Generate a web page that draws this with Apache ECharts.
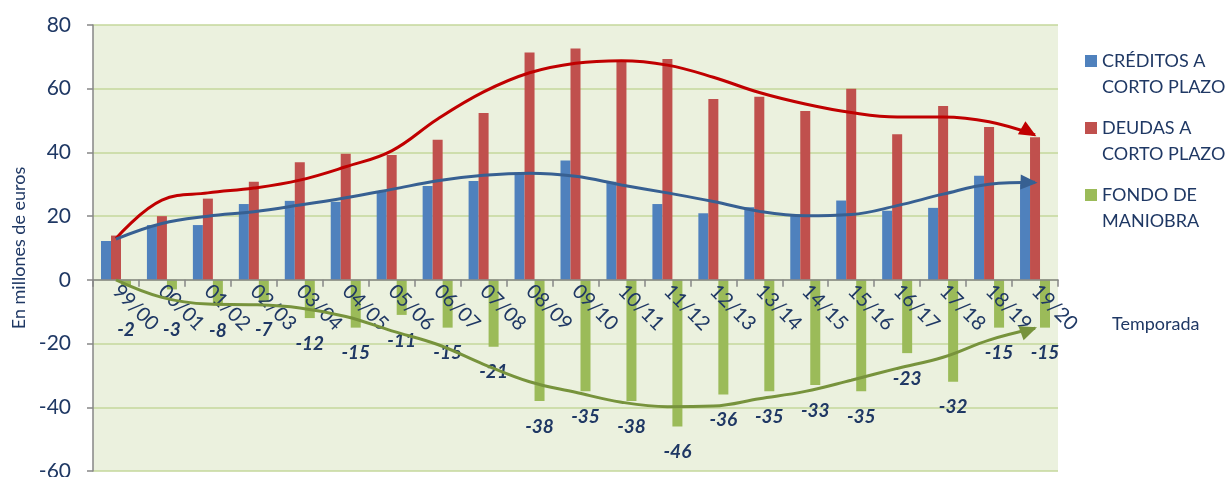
<!DOCTYPE html>
<html><head><meta charset="utf-8">
<script src="https://cdn.jsdelivr.net/npm/echarts@6/dist/echarts.min.js"></script>
<style>html,body{margin:0;padding:0;background:#fff}#c{width:1227px;height:477px}</style>
</head><body><div id="c"></div>
<script>
const categories = ['99/00','00/01','01/02','02/03','03/04','04/05','05/06','06/07','07/08','08/09','09/10','10/11','11/12','12/13','13/14','14/15','15/16','16/17','17/18','18/19','19/20'];
const creditos = [12.2,17.2,17.2,23.8,24.8,24.5,27.7,29.5,31,33.6,37.5,30.8,23.8,20.9,22.8,20.4,24.9,21.7,22.6,32.7,30];
const deudas = [13.9,20,25.5,30.8,36.9,39.6,39.2,44,52.4,71.4,72.6,69,69.3,56.8,57.5,53,60,45.7,54.6,48,44.8];
const fondo = [-2,-3,-8,-7,-12,-15,-11,-15,-21,-38,-35,-38,-46,-36,-35,-33,-35,-23,-32,-15,-15];
const trendCreditos = [12.8,17.7,20,21.4,23.5,25.8,28.4,31.1,32.8,33.5,32.5,29.8,27.3,24.6,21.5,20.1,20.5,23.3,26.9,30,30.6];
const trendDeudas = [13,25,27.3,28.8,31.3,35.5,40.5,50.5,59,65,68,68.8,67.4,63.6,58.8,55.2,52.5,51.1,51.1,49.6,45.5];
const trendFondo = [0,-5.5,-7.6,-7.8,-8.8,-11.5,-16,-20.3,-26.5,-32,-35.3,-38.4,-39.8,-39.6,-37.3,-35,-31.5,-27.8,-24.3,-18.9,-15.2];
const seriesNames = ['CRÉDITOS A CORTO PLAZO','DEUDAS A CORTO PLAZO','FONDO DE MANIOBRA'];
const legendLines = {'CRÉDITOS A CORTO PLAZO':'\nCRÉDITOS A\nCORTO PLAZO','DEUDAS A CORTO PLAZO':'\nDEUDAS A\nCORTO PLAZO','FONDO DE MANIOBRA':'\nFONDO DE\nMANIOBRA'};
const yMin = -60, yMax = 80, yStep = 20;

const NAVY = '#1F3864';
const FONT = 'Lato';
const grid = {left: 93, right: 169, top: 25, bottom: 6};
const plotH = 477 - grid.top - grid.bottom;
const pxPerUnit = plotH / (yMax - yMin);
const zeroY = grid.top + yMax * pxPerUnit;
const xAxisOffset = -(477 - grid.bottom - zeroY);

function trend(values, color, rot, off) {
  const n = values.length;
  return values.map((v, i) => i === n - 1
    ? {value: v, symbol: 'triangle', symbolSize: [15, 17], symbolRotate: rot, symbolOffset: off, itemStyle: {color: color}}
    : {value: v, symbol: 'none'});
}

const fondoData = fondo.map(v => {
  const barEnd = zeroY - v * pxPerUnit;
  const d = Math.max(16, 320 - barEnd);
  return {value: v, label: {distance: d}};
});

const chart = echarts.init(document.getElementById('c'));
chart.setOption({
  animation: false,
  textStyle: {fontFamily: FONT},
  grid: Object.assign({show: true, backgroundColor: '#EBF1DE', borderWidth: 0, outerBoundsMode: 'none', containLabel: false}, grid),
  legend: {
    orient: 'vertical', left: 1085, top: 22, padding: 0,
    icon: 'rect', itemWidth: 12, itemHeight: 12, itemGap: -11,
    data: seriesNames,
    formatter: n => legendLines[n],
    textStyle: {color: NAVY, fontSize: 18, fontFamily: FONT, lineHeight: 26}
  },
  graphic: [{type: 'text', left: 1112, top: 315, style: {text: 'Temporada', fill: NAVY, fontSize: 18, fontFamily: FONT}}],
  xAxis: {
    type: 'category', data: categories, position: 'bottom', offset: xAxisOffset,
    axisLine: {onZero: false, lineStyle: {color: '#868686', width: 1.5}},
    axisTick: {show: true, length: 7, interval: 0, lineStyle: {color: '#868686', width: 1.5}},
    axisLabel: {rotate: -45, interval: 0, margin: 8, color: NAVY, fontSize: 20, fontFamily: FONT},
    z: 3
  },
  yAxis: {
    type: 'value', min: yMin, max: yMax, interval: yStep,
    name: 'En millones de euros', nameLocation: 'middle', nameGap: 64, nameRotate: 90,
    nameTextStyle: {color: NAVY, fontSize: 18, fontFamily: FONT},
    axisLine: {show: true, lineStyle: {color: '#868686', width: 1.5}},
    axisTick: {show: true, length: 6, lineStyle: {color: '#868686', width: 1.5}},
    axisLabel: {color: NAVY, fontSize: 21, margin: 22, fontFamily: FONT},
    splitLine: {lineStyle: {color: '#C4D79B', width: 1.5}}
  },
  series: [
    {name: seriesNames[0], type: 'bar', data: creditos, barWidth: 10, barGap: '0%', itemStyle: {color: '#4F81BD'}},
    {name: seriesNames[1], type: 'bar', data: deudas, barWidth: 10, barGap: '0%', itemStyle: {color: '#C0504D'}},
    {name: seriesNames[2], type: 'bar', data: fondoData, barWidth: 10, barGap: '0%', itemStyle: {color: '#9BBB59'},
      label: {show: true, position: 'bottom', color: NAVY, fontSize: 19, fontWeight: 'bold', fontStyle: 'italic', fontFamily: FONT}},
    {name: 'trend1', type: 'line', smooth: 0.4, showSymbol: true, data: trend(trendDeudas, '#C00000', -120, [-6, -3]), lineStyle: {color: '#C00000', width: 3}, itemStyle: {color: '#C00000'}, z: 5, silent: true},
    {name: 'trend2', type: 'line', smooth: 0.4, showSymbol: true, data: trend(trendCreditos, '#376092', -92, [-6, 0]), lineStyle: {color: '#376092', width: 3}, itemStyle: {color: '#376092'}, z: 5, silent: true},
    {name: 'trend3', type: 'line', smooth: 0.4, showSymbol: true, data: trend(trendFondo, '#77933C', -70, [-6, 2]), lineStyle: {color: '#77933C', width: 3}, itemStyle: {color: '#77933C'}, z: 5, silent: true}
  ]
});
</script></body></html>
